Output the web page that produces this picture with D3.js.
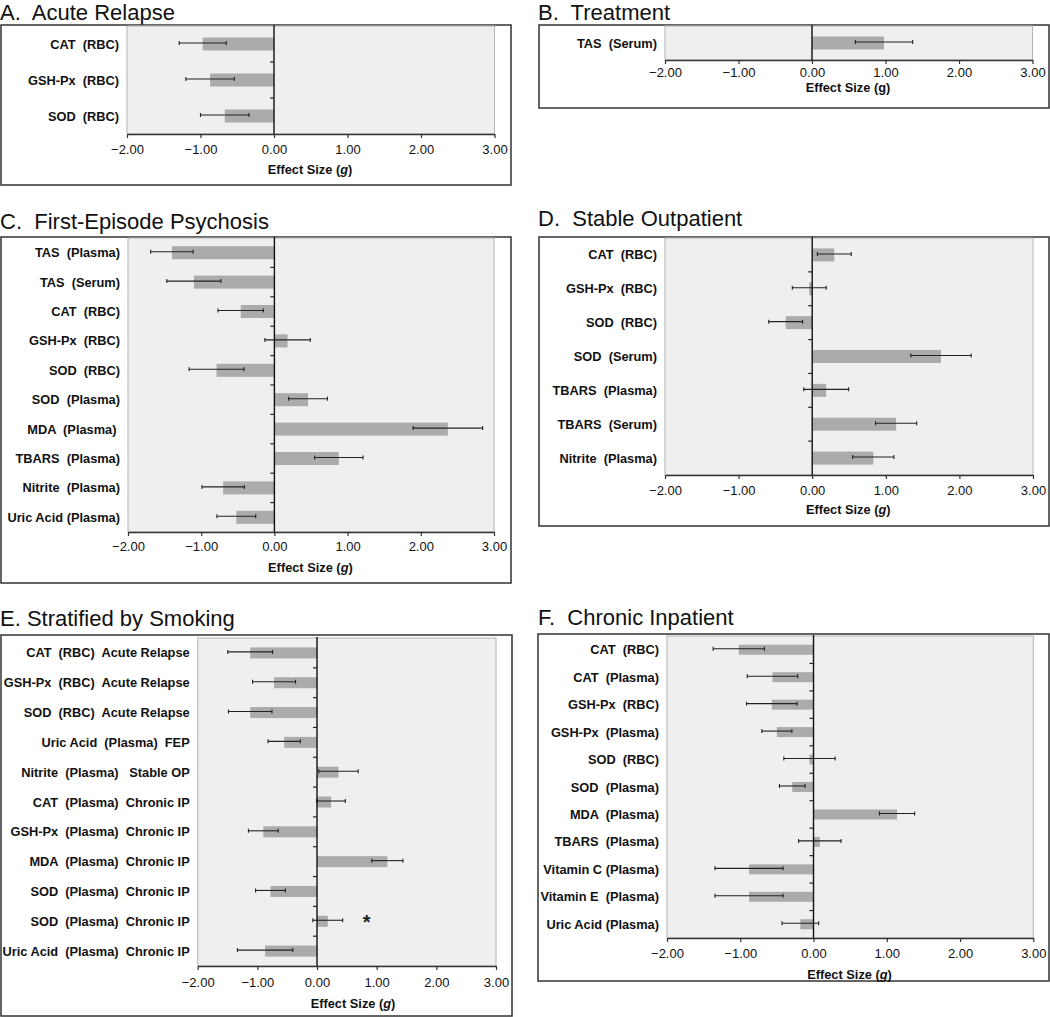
<!DOCTYPE html>
<html><head><meta charset="utf-8">
<script src="https://cdn.jsdelivr.net/npm/d3@7"></script>
<style>
body{margin:0;background:#fff;}
svg text{font-family:"Liberation Sans",Arial,sans-serif;white-space:pre;}
</style></head>
<body><svg id="c" width="1050" height="1017"></svg>
<script>
// ---------- data ----------
const xTicks = [-2, -1, 0, 1, 2, 3];

const aLabels = ["CAT  (RBC)", "GSH-Px  (RBC)", "SOD  (RBC)"];
const aValues = [-0.97, -0.87, -0.67];
const aErrors = [0.32, 0.33, 0.33];

const bLabels = ["TAS  (Serum)"];
const bValues = [0.98];
const bErrors = [0.39];

const cLabels = ["TAS  (Plasma)", "TAS  (Serum)", "CAT  (RBC)", "GSH-Px  (RBC)", "SOD  (RBC)", "SOD  (Plasma)", "MDA  (Plasma) ", "TBARS  (Plasma)", "Nitrite  (Plasma)", "Uric Acid (Plasma)"];
const cValues = [-1.40, -1.10, -0.46, 0.18, -0.79, 0.46, 2.37, 0.88, -0.70, -0.52];
const cErrors = [0.29, 0.37, 0.31, 0.31, 0.375, 0.265, 0.475, 0.33, 0.29, 0.265];

const dLabels = ["CAT  (RBC)", "GSH-Px  (RBC)", "SOD  (RBC)", "SOD  (Serum)", "TBARS  (Plasma)", "TBARS  (Serum)", "Nitrite  (Plasma)"];
const dValues = [0.30, -0.04, -0.36, 1.75, 0.19, 1.14, 0.83];
const dErrors = [0.23, 0.23, 0.23, 0.41, 0.305, 0.28, 0.28];

const eLabels = ["CAT  (RBC)  Acute Relapse", "GSH-Px  (RBC)  Acute Relapse", "SOD  (RBC)  Acute Relapse", "Uric Acid  (Plasma)  FEP", "Nitrite  (Plasma)   Stable OP", "CAT  (Plasma)  Chronic IP", "GSH-Px  (Plasma)  Chronic IP", "MDA  (Plasma)  Chronic IP", "SOD  (Plasma)  Chronic IP", "SOD  (Plasma)  Chronic IP", "Uric Acid  (Plasma)  Chronic IP"];
const eValues = [-1.12, -0.72, -1.12, -0.55, 0.36, 0.235, -0.90, 1.18, -0.78, 0.18, -0.87];
const eErrors = [0.375, 0.36, 0.365, 0.27, 0.33, 0.24, 0.25, 0.26, 0.25, 0.25, 0.465];
const eMarks = ["", "", "", "", "", "", "", "", "", "*", ""];

const fLabels = ["CAT  (RBC)", "CAT  (Plasma)", "GSH-Px  (RBC)", "GSH-Px  (Plasma)", "SOD  (RBC)", "SOD  (Plasma)", "MDA  (Plasma)", "TBARS  (Plasma)", "Vitamin C (Plasma)", "Vitamin E  (Plasma)", "Uric Acid (Plasma)"];
const fValues = [-1.02, -0.56, -0.57, -0.50, -0.055, -0.29, 1.14, 0.086, -0.88, -0.88, -0.18];
const fErrors = [0.35, 0.345, 0.345, 0.205, 0.35, 0.175, 0.24, 0.29, 0.465, 0.465, 0.25];

// ---------- layout ----------
const panels = [
  {title:"A.  Acute Relapse", tx:0, ty:20, box:[1,25,511,185], plot:[127,494.5,26,134], tickDy:20, titleDy:40, italic:true, barH:13, labels:aLabels, values:aValues, errors:aErrors},
  {title:"B.  Treatment", tx:538, ty:20, box:[539,25,1049,108], plot:[665,1032.5,26,60], tickDy:17, titleDy:32, italic:false, barH:13, labels:bLabels, values:bValues, errors:bErrors},
  {title:"C.  First-Episode Psychosis", tx:0, ty:229, box:[1,237,511,583], plot:[128,494,238,532], tickDy:19, titleDy:40, italic:true, barH:13, labels:cLabels, values:cValues, errors:cErrors},
  {title:"D.  Stable Outpatient", tx:538, ty:226, box:[539,237,1049,526], plot:[665,1033,238,475], tickDy:20, titleDy:39, italic:true, barH:13, labels:dLabels, values:dValues, errors:dErrors},
  {title:"E. Stratified by Smoking", tx:0, ty:626, box:[1,635,512,1016], plot:[197.7,496,638,966], tickDy:21, titleDy:42, italic:true, barH:11, labels:eLabels, values:eValues, errors:eErrors, marks:eMarks},
  {title:"F.  Chronic Inpatient", tx:538, ty:625, box:[538,634,1049,981], plot:[667,1033.3,636,938], tickDy:20, titleDy:41, italic:true, barH:10, labels:fLabels, values:fValues, errors:fErrors}
];

const svg = d3.select("#c");
const fmt = d3.format(".2f");

panels.forEach(p => {
  const g = svg.append("g");
  const [bx0,by0,bx1,by1] = p.box;
  const [px0,px1,py0,py1] = p.plot;
  g.append("text").attr("x", p.tx).attr("y", p.ty).attr("font-size", 22).attr("fill", "#111").text(p.title);
  g.append("rect").attr("x", bx0).attr("y", by0).attr("width", bx1-bx0).attr("height", by1-by0)
    .attr("fill", "none").attr("stroke", "#333").attr("stroke-width", 1.5);

  const x = d3.scaleLinear().domain([xTicks[0], xTicks[xTicks.length-1]]).range([px0, px1]);
  const y = d3.scaleBand().domain(p.labels.map((d,i)=>i)).range([py0, py1]).padding(0);

  g.append("rect").attr("x", px0).attr("y", py0).attr("width", px1-px0).attr("height", py1-py0)
    .attr("fill", "#efefef").attr("stroke", "#b4b4b4").attr("stroke-width", 1);

  // bars
  g.selectAll(".bar").data(p.values).join("rect")
    .attr("x", d => Math.min(x(0), x(d)))
    .attr("width", d => Math.abs(x(d) - x(0)))
    .attr("y", (d,i) => y(i) + (y.bandwidth() - p.barH)/2)
    .attr("height", p.barH)
    .attr("fill", "#ababab");

  // error bars
  const eg = g.selectAll(".err").data(p.values).join("g");
  eg.append("line")
    .attr("x1", (d,i) => x(d - p.errors[i])).attr("x2", (d,i) => x(d + p.errors[i]))
    .attr("y1", (d,i) => y(i) + y.bandwidth()/2 - 1).attr("y2", (d,i) => y(i) + y.bandwidth()/2 - 1)
    .attr("stroke", "#222").attr("stroke-width", 1.1);
  [-1, 1].forEach(s => {
    eg.append("line")
      .attr("x1", (d,i) => x(d + s*p.errors[i])).attr("x2", (d,i) => x(d + s*p.errors[i]))
      .attr("y1", (d,i) => y(i) + y.bandwidth()/2 - 3).attr("y2", (d,i) => y(i) + y.bandwidth()/2 + 1)
      .attr("stroke", "#222").attr("stroke-width", 1.1);
  });

  // marks (asterisk)
  if (p.marks) {
    g.selectAll(".mark").data(p.marks).join("text")
      .attr("x", (d,i) => x(p.values[i] + p.errors[i]) + 20)
      .attr("y", (d,i) => y(i) + y.bandwidth()/2 + 8)
      .attr("font-size", 20).attr("font-weight", "bold").attr("fill", "#222").text(d => d);
  }

  // zero line (y axis)
  g.append("line").attr("x1", x(0)).attr("x2", x(0)).attr("y1", py0 - 1).attr("y2", py1)
    .attr("stroke", "#111").attr("stroke-width", 1.4);
  // y ticks at row boundaries
  g.selectAll(".ytick").data(p.labels.slice(1)).join("line")
    .attr("x1", x(0) - 4).attr("x2", x(0))
    .attr("y1", (d,i) => y(i+1)).attr("y2", (d,i) => y(i+1))
    .attr("stroke", "#222").attr("stroke-width", 1.2);
  // y labels
  g.selectAll(".ylab").data(p.labels).join("text")
    .attr("x", px0 - 8).attr("y", (d,i) => y(i) + y.bandwidth()/2 + 4.5)
    .attr("text-anchor", "end").attr("font-size", 12.8).attr("font-weight", "bold").attr("fill", "#111")
    .text(d => d);

  // x axis
  const xa = g.append("g").attr("transform", `translate(0,${py1})`)
    .call(d3.axisBottom(x).tickValues(xTicks).tickFormat(fmt).tickSize(4).tickSizeOuter(0));
  xa.select(".domain").attr("stroke", "#333").attr("stroke-width", 1.3);
  xa.selectAll(".tick line").attr("stroke", "#333").attr("stroke-width", 1.2);
  xa.selectAll(".tick text").attr("font-size", 13).attr("fill", "#111")
    .attr("font-family", "Liberation Sans, Arial, sans-serif").attr("dy", null).attr("y", p.tickDy);

  const at = g.append("text").attr("x", x(0) + 36).attr("y", py1 + p.titleDy)
    .attr("text-anchor", "middle").attr("font-size", 12.8).attr("font-weight", "bold").attr("fill", "#111");
  at.append("tspan").text("Effect Size (");
  at.append("tspan").attr("font-style", p.italic ? "italic" : "normal").text("g");
  at.append("tspan").text(")");
});
</script></body></html>
